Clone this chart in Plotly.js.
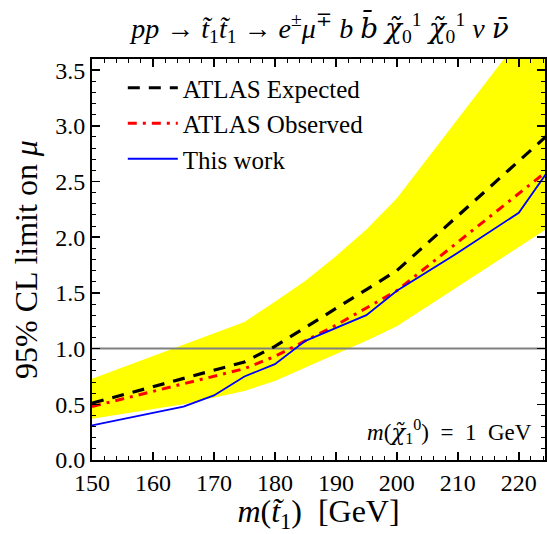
<!DOCTYPE html>
<html>
<head>
<meta charset="utf-8">
<script src="https://cdn.plot.ly/plotly-3.0.1.min.js"></script>
<style>html,body{margin:0;padding:0;background:#fff;}#chart{width:547px;height:534px;}</style>
</head>
<body>
<div id="chart"></div>
<script>
// Band (±1σ around expected)
const bandX     = [150, 165, 175, 180, 185, 190, 195, 200, 225];
const bandLower = [0.37, 0.50, 0.62, 0.71, 0.83, 0.95, 1.07, 1.20, 2.09];
const bandUpperX = [150, 175, 180, 185, 190, 195, 200, 225];
const bandUpper  = [0.73, 1.24, 1.42, 1.61, 1.83, 2.07, 2.35, 4.13];
// ATLAS expected
const expX = [150, 175, 180, 185, 200, 225];
const expY = [0.51, 0.88, 1.02, 1.19, 1.70, 2.93];
// ATLAS observed
const obsX = [150, 175, 180, 190, 200, 225];
const obsY = [0.48, 0.82, 0.93, 1.21, 1.52, 2.61];
// This work
const thisX = [150, 160, 165, 170, 175, 180, 185, 195, 200, 210, 220, 225];
const thisY = [0.31, 0.42, 0.48, 0.58, 0.75, 0.86, 1.07, 1.30, 1.52, 1.86, 2.22, 2.61];
const refX = [150, 225];
const refY = [1, 1];
const names = ["ATLAS Expected", "ATLAS Observed", "This work"];

const FONT = "Liberation Serif, DejaVu Serif, serif";
const DJ = (s) => '<span style="font-family:DejaVu Serif">' + s + '</span>';

// Build band polygon for filling
const polyX = bandX.concat(bandUpperX.slice().reverse());
const polyY = bandLower.concat(bandUpper.slice().reverse());

const traces = [
  {x: polyX, y: polyY, type: 'scatter', mode: 'lines', fill: 'toself',
   fillcolor: '#ffff00', line: {width: 0, color: '#ffff00'}, showlegend: false, hoverinfo: 'skip'},
  {x: refX, y: refY, type: 'scatter', mode: 'lines', line: {color: '#808080', width: 2},
   showlegend: false, hoverinfo: 'skip'},
  {x: expX, y: expY, type: 'scatter', mode: 'lines', name: names[0],
   line: {color: '#000000', width: 3.2, dash: '12px,9px'}},
  {x: obsX, y: obsY, type: 'scatter', mode: 'lines', name: names[1],
   line: {color: '#ff0000', width: 3, dash: '9px,6px,3px,6px'}},
  {x: thisX, y: thisY, type: 'scatter', mode: 'lines', name: names[2],
   line: {color: '#0000ff', width: 1.8}}
];

const axisCommon = {
  showgrid: false, zeroline: false, showline: true, linecolor: '#000', linewidth: 2,
  mirror: 'allticks', ticks: 'inside', ticklen: 8, tickwidth: 1.5, tickcolor: '#000',
  tickfont: {family: FONT, size: 24, color: '#000'}
};

const chi = DJ('<i>χ̃</i>');
const layout = {
  width: 547, height: 534,
  margin: {l: 92, r: 2, t: 59, b: 74},
  paper_bgcolor: '#fff', plot_bgcolor: '#fff',
  font: {family: FONT, color: '#000'},
  title: {text: '<i>pp</i> → <i>t̃</i><sub>1</sub><i>t̃</i><sub>1</sub> → <i>e</i><sup>±</sup><i>μ</i><sup>∓</sup> <i>b</i> ' + DJ('<i>b̄</i>') + ' ' +
                chi + '<sub>0</sub><sup>1</sup> ' + chi + '<sub>0</sub><sup>1</sup> <i>ν</i> ' + DJ('<i>ν̄</i>'),
          font: {family: FONT, size: 28, color: '#000'}, x: 0.585, xanchor: 'center', y: 0.948, yanchor: 'middle'},
  xaxis: Object.assign({}, axisCommon, {
    range: [150, 224.3], dtick: 10, tick0: 150,
    minor: {dtick: 2, ticks: 'inside', ticklen: 4, tickwidth: 1, tickcolor: '#000'},
    title: {text: '<i>m</i>(<i>t̃</i><sub>1</sub>)  [GeV]', font: {family: FONT, size: 32, color: '#000'}, standoff: 4}
  }),
  yaxis: Object.assign({}, axisCommon, {
    range: [0, 3.6], dtick: 0.5, tick0: 0, tickformat: '.1f',
    minor: {dtick: 0.1, ticks: 'inside', ticklen: 4, tickwidth: 1, tickcolor: '#000'},
    title: {text: '95% CL limit on <i>μ</i>', font: {family: FONT, size: 32, color: '#000'}, standoff: 8}
  }),
  legend: {x: 0.068, y: 0.985, xanchor: 'left', yanchor: 'top', bgcolor: 'rgba(0,0,0,0)', itemwidth: 50,
           font: {family: FONT, size: 25, color: '#000'}, tracegroupgap: 0},
  annotations: [{
    xref: 'paper', yref: 'paper', x: 0.975, y: 0.07, xanchor: 'right', yanchor: 'middle', showarrow: false,
    text: '<i>m</i>(' + chi + '<sub>1</sub><sup>0</sup>)  =  1  GeV', font: {family: FONT, size: 23, color: '#000'}
  }]
};

Plotly.newPlot('chart', traces, layout, {displayModeBar: false, staticPlot: true});
</script>
</body>
</html>
